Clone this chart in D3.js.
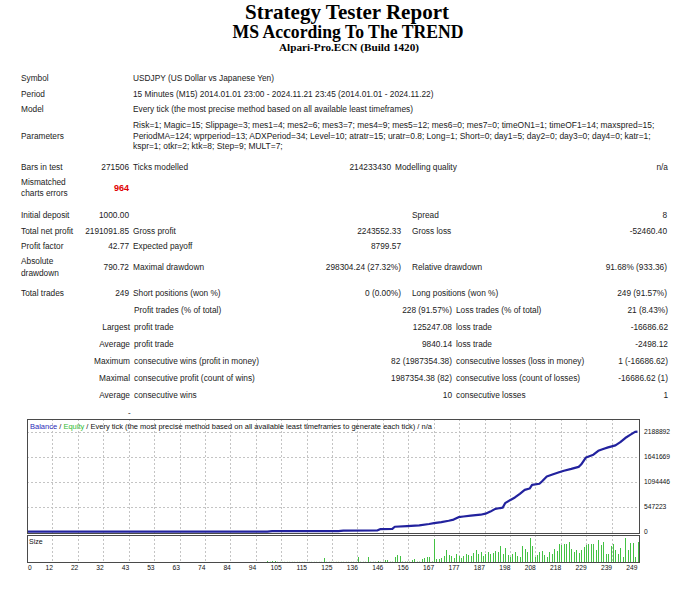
<!DOCTYPE html>
<html><head><meta charset="utf-8">
<script src="https://cdnjs.cloudflare.com/ajax/libs/d3/7.8.5/d3.min.js"></script>
<style>html,body{margin:0;padding:0;background:#fff;} svg{display:block;}</style>
</head><body>
<svg id="c" width="694" height="600"></svg>
<script>
// ---------- data ----------
const titles = ["Strategy Tester Report", "MS According To The TREND", "Alpari-Pro.ECN (Build 1420)"];
const infoLabels = ["Symbol", "Period", "Model"];
const infoValues = [
  "USDJPY (US Dollar vs Japanese Yen)",
  "15 Minutes (M15) 2014.01.01 23:00 - 2024.11.21 23:45 (2014.01.01 - 2024.11.22)",
  "Every tick (the most precise method based on all available least timeframes)"
];
const paramLines = [
  "Risk=1; Magic=15; Slippage=3; mes1=4; mes2=6; mes3=7; mes4=9; mes5=12; mes6=0; mes7=0; timeON1=1; timeOF1=14; maxspred=15;",
  "PeriodMA=124; wprperiod=13; ADXPeriod=34; Level=10; atratr=15; uratr=0.8; Long=1; Short=0; day1=5; day2=0; day3=0; day4=0; katr=1;",
  "kspr=1; otkr=2; ktk=8; Step=9; MULT=7;"
];
const barsRow = ["Bars in test", "271506", "Ticks modelled", "214233430", "Modelling quality", "n/a"];
const mismatchRow = ["Mismatched|charts errors", "964"];
const summaryRows = [
  ["Initial deposit", "1000.00", "", "", "Spread", "8"],
  ["Total net profit", "2191091.85", "Gross profit", "2243552.33", "Gross loss", "-52460.40"],
  ["Profit factor", "42.77", "Expected payoff", "8799.57", "", ""],
  ["Absolute|drawdown", "790.72", "Maximal drawdown", "298304.24 (27.32%)", "Relative drawdown", "91.68% (933.36)"],
  ["Total trades", "249", "Short positions (won %)", "0 (0.00%)", "Long positions (won %)", "249 (91.57%)"]
];
const tradeRows = [
  ["", "Profit trades (% of total)", "228 (91.57%)", "Loss trades (% of total)", "21 (8.43%)"],
  ["Largest", "profit trade", "125247.08", "loss trade", "-16686.62"],
  ["Average", "profit trade", "9840.14", "loss trade", "-2498.12"],
  ["Maximum", "consecutive wins (profit in money)", "82 (1987354.38)", "consecutive losses (loss in money)", "1 (-16686.62)"],
  ["Maximal", "consecutive profit (count of wins)", "1987354.38 (82)", "consecutive loss (count of losses)", "-16686.62 (1)"],
  ["Average", "consecutive wins", "10", "consecutive losses", "1"]
];
const chartCaption = ["Balance", " / ", "Equity", " / Every tick (the most precise method based on all available least timeframes to generate each tick) / n/a"];

const xTickLabels = [0, 12, 22, 32, 43, 53, 63, 74, 84, 94, 105, 115, 125, 136, 146, 156, 167, 177, 187, 198, 208, 218, 229, 239, 249];
const yTickValues = [0, 547223, 1094446, 1641669, 2188892];

const balanceTrades = [0, 98, 100, 127, 129, 143, 144, 149, 150, 155, 160, 164, 166, 169, 172, 174, 176, 178, 181, 185, 187, 189, 191, 193, 194, 195, 197, 199, 201, 203, 205, 206, 209, 210, 212, 214, 217, 219, 222, 225, 226, 228, 231, 233, 235, 237, 240, 242, 244, 246, 248, 249];
const balanceValues = [1000, 1500, 12000, 14000, 25000, 30000, 55000, 62000, 108000, 122000, 140000, 168000, 186000, 210000, 240000, 265000, 318000, 332000, 350000, 372000, 395000, 440000, 500000, 518000, 525000, 625000, 690000, 750000, 830000, 915000, 945000, 1025000, 1050000, 1100000, 1210000, 1245000, 1300000, 1335000, 1375000, 1420000, 1470000, 1625000, 1685000, 1770000, 1810000, 1845000, 1890000, 1960000, 2050000, 2120000, 2185000, 2192092];

// lot sizes of trades 98 .. 249
const sizeFirstTrade = 98;
const sizeLots = [
  2, 0.4, 2, 2, 0.4, 0.3, 0.3, 0.3, 0.3, 0.3, 0.3, 0.3, 0.3, 0.3, 0.3, 0.3, 0.3, 0.3, 0.3, 0.3, 0.3, 0.3, 0.3, 8,
  0.4, 0.4, 0.4, 0.4, 0.4, 0.4, 0.4, 0.4, 0.4, 0.4, 0.4, 0.4, 0.4, 10, 0.5, 0.5, 0.5, 10, 0.5, 0.5, 0.5, 2, 0.6, 0.6,
  4, 4, 0.6, 0.6, 10, 14, 12, 0.8, 0.8, 0.8, 0.8, 4, 6, 0.8, 0.8, 6, 8, 10, 10, 1, 46, 6, 6, 8, 12, 24, 14, 12, 8, 16,
  12, 8, 12, 16, 14, 12, 18, 24, 16, 20, 12, 16, 20, 16, 18, 22, 20, 32, 16, 28, 14, 10, 16, 20, 12, 10, 32, 26, 20, 48,
  32, 10, 14, 20, 22, 14, 10, 20, 16, 26, 22, 36, 34, 36, 36, 40, 26, 20, 24, 18, 24, 30, 34, 36, 36, 36, 24, 44, 34,
  40, 16, 16, 32, 36, 24, 16, 28, 10, 48, 24, 38, 38, 10, 40
];

// ---------- drawing ----------
const svg = d3.select("#c");
const FONT = "'Liberation Sans', Arial, sans-serif";
const TXT = "#222";

function txt(x, y, s, o = {}) {
  const t = svg.append("text")
    .attr("x", x).attr("y", y)
    .attr("font-family", o.family || FONT)
    .attr("font-size", o.size || 8.3)
    .attr("font-weight", o.weight || "normal")
    .attr("fill", o.fill || TXT)
    .attr("text-anchor", o.anchor || "start")
    .attr("dominant-baseline", "central")
    .text(s);
  if (o.len) t.attr("textLength", o.len).attr("lengthAdjust", "spacingAndGlyphs");
  return t;
}
function multi(x, y, s, o, gap) {
  const parts = s.split("|");
  if (parts.length === 1) { txt(x, y, s, o); return; }
  parts.forEach((p, k) => txt(x, y - gap / 2 + k * gap, p, o));
}

// titles
const SERIF = "'Liberation Serif', 'Times New Roman', serif";
txt(347, 11, titles[0], {family: SERIF, size: 22, weight: "bold", anchor: "middle", fill: "#000", len: 204});
txt(348, 32, titles[1], {family: SERIF, size: 18, weight: "bold", anchor: "middle", fill: "#000", len: 231});
txt(349, 47, titles[2], {family: SERIF, size: 11, weight: "bold", anchor: "middle", fill: "#000", len: 140});

// info block
const colL = 21, colV = 133, rNum = 129;
const infoY = [78, 93.5, 109];
infoLabels.forEach((l, k) => { txt(colL, infoY[k], l); txt(colV, infoY[k], infoValues[k]); });
txt(colL, 135.5, "Parameters");
const paramY = [125, 135.5, 146];
paramLines.forEach((l, k) => txt(colV, paramY[k], l, {size: 8.45}));

// bars row
txt(colL, 167, barsRow[0]); txt(rNum, 167, barsRow[1], {anchor: "end"});
txt(colV, 167, barsRow[2]); txt(391, 167, barsRow[3], {anchor: "end"});
txt(395, 167, barsRow[4]); txt(668, 167, barsRow[5], {anchor: "end"});

// mismatched
multi(colL, 187.5, mismatchRow[0], {}, 11);
txt(rNum, 187.5, mismatchRow[1], {anchor: "end", weight: "bold", fill: "#e00000", size: 9});

// summary
const sumY = [215, 231, 246, 267, 293];
summaryRows.forEach((r, k) => {
  const y = sumY[k];
  multi(colL, y, r[0], {}, 12);
  txt(rNum, y, r[1], {anchor: "end"});
  if (r[2]) txt(colV, y, r[2]);
  if (r[3]) txt(401, y, r[3], {anchor: "end"});
  if (r[4]) txt(412, y, r[4]);
  if (r[5]) txt(667, y, r[5], {anchor: "end"});
});

// trade stats
const trY = [310, 327, 344, 361, 378, 395];
tradeRows.forEach((r, k) => {
  const y = trY[k];
  if (r[0]) txt(130, y, r[0], {anchor: "end"});
  txt(134, y, r[1]);
  txt(452, y, r[2], {anchor: "end"});
  txt(456, y, r[3]);
  txt(668, y, r[4], {anchor: "end"});
});
txt(128, 412, "-", {size: 8, fill: "#000"});

// ---------- chart ----------
const L = 27, R = 639, T = 419, B = 533, ST = 535, SB = 562;
const gridX = d3.scalePoint().domain(xTickLabels).range([L, 637]);
const tradeX = d3.scaleLinear().domain([0, 249]).range([L, 637.5]);
const yS = d3.scaleLinear().domain([0, 2188892]).range([531.7, 431.7]);
const sizeY = d3.scaleLinear().domain([0, 54]).range([SB, ST]);

const grid = svg.append("g").attr("stroke", "#c4c4c4").attr("stroke-width", 1).attr("stroke-dasharray", "2,2");
xTickLabels.slice(1, -1).forEach(v => {
  const x = Math.round(gridX(v)) + 0.5;
  grid.append("line").attr("x1", x).attr("x2", x).attr("y1", T).attr("y2", B);
  grid.append("line").attr("x1", x).attr("x2", x).attr("y1", ST).attr("y2", SB);
});
yTickValues.slice(1).forEach(v => {
  const y = Math.round(yS(v)) + 0.5;
  grid.append("line").attr("x1", L).attr("x2", R).attr("y1", y).attr("y2", y);
});

// size bars
svg.append("g").selectAll("line").data(sizeLots).join("line")
  .attr("x1", (d, k) => Math.round(tradeX(sizeFirstTrade + k)) + 0.5)
  .attr("x2", (d, k) => Math.round(tradeX(sizeFirstTrade + k)) + 0.5)
  .attr("y1", sizeY(0)).attr("y2", d => sizeY(d))
  .attr("stroke", "#44c244").attr("stroke-width", 1);

// balance line
const pts = balanceTrades.map((t, k) => [tradeX(t), yS(balanceValues[k])]);
svg.append("path").attr("d", d3.line()(pts))
  .attr("fill", "none").attr("stroke", "#22229e").attr("stroke-width", 2.2).attr("stroke-linejoin", "round");

// frames
svg.append("rect").attr("x", L + 0.5).attr("y", T + 0.5).attr("width", R - L).attr("height", B - T)
  .attr("fill", "none").attr("stroke", "#4a4a4a");
svg.append("rect").attr("x", L + 0.5).attr("y", ST + 0.5).attr("width", R - L).attr("height", SB - ST)
  .attr("fill", "none").attr("stroke", "#4a4a4a");

// caption
const cap = svg.append("text").attr("x", 30).attr("y", 425.5).attr("dominant-baseline", "central")
  .attr("font-family", FONT).attr("font-size", 7.5).attr("fill", "#111");
const capColors = ["#2a2ab8", "#111", "#33bb33", "#111"];
chartCaption.forEach((s, k) => cap.append("tspan").attr("fill", capColors[k]).text(s));
txt(29, 541.5, "Size", {size: 7, fill: "#111"});

// y axis labels
yTickValues.forEach(v => txt(644, yS(v), String(v), {size: 6.7, fill: "#111"}));
// x axis labels
xTickLabels.forEach((v, k) => {
  if (k === 0) txt(28, 567.5, String(v), {size: 6.7, fill: "#111"});
  else txt(gridX(v) + 0.5, 567.5, String(v), {size: 6.7, fill: "#111", anchor: "end"});
});
</script>
</body></html>
